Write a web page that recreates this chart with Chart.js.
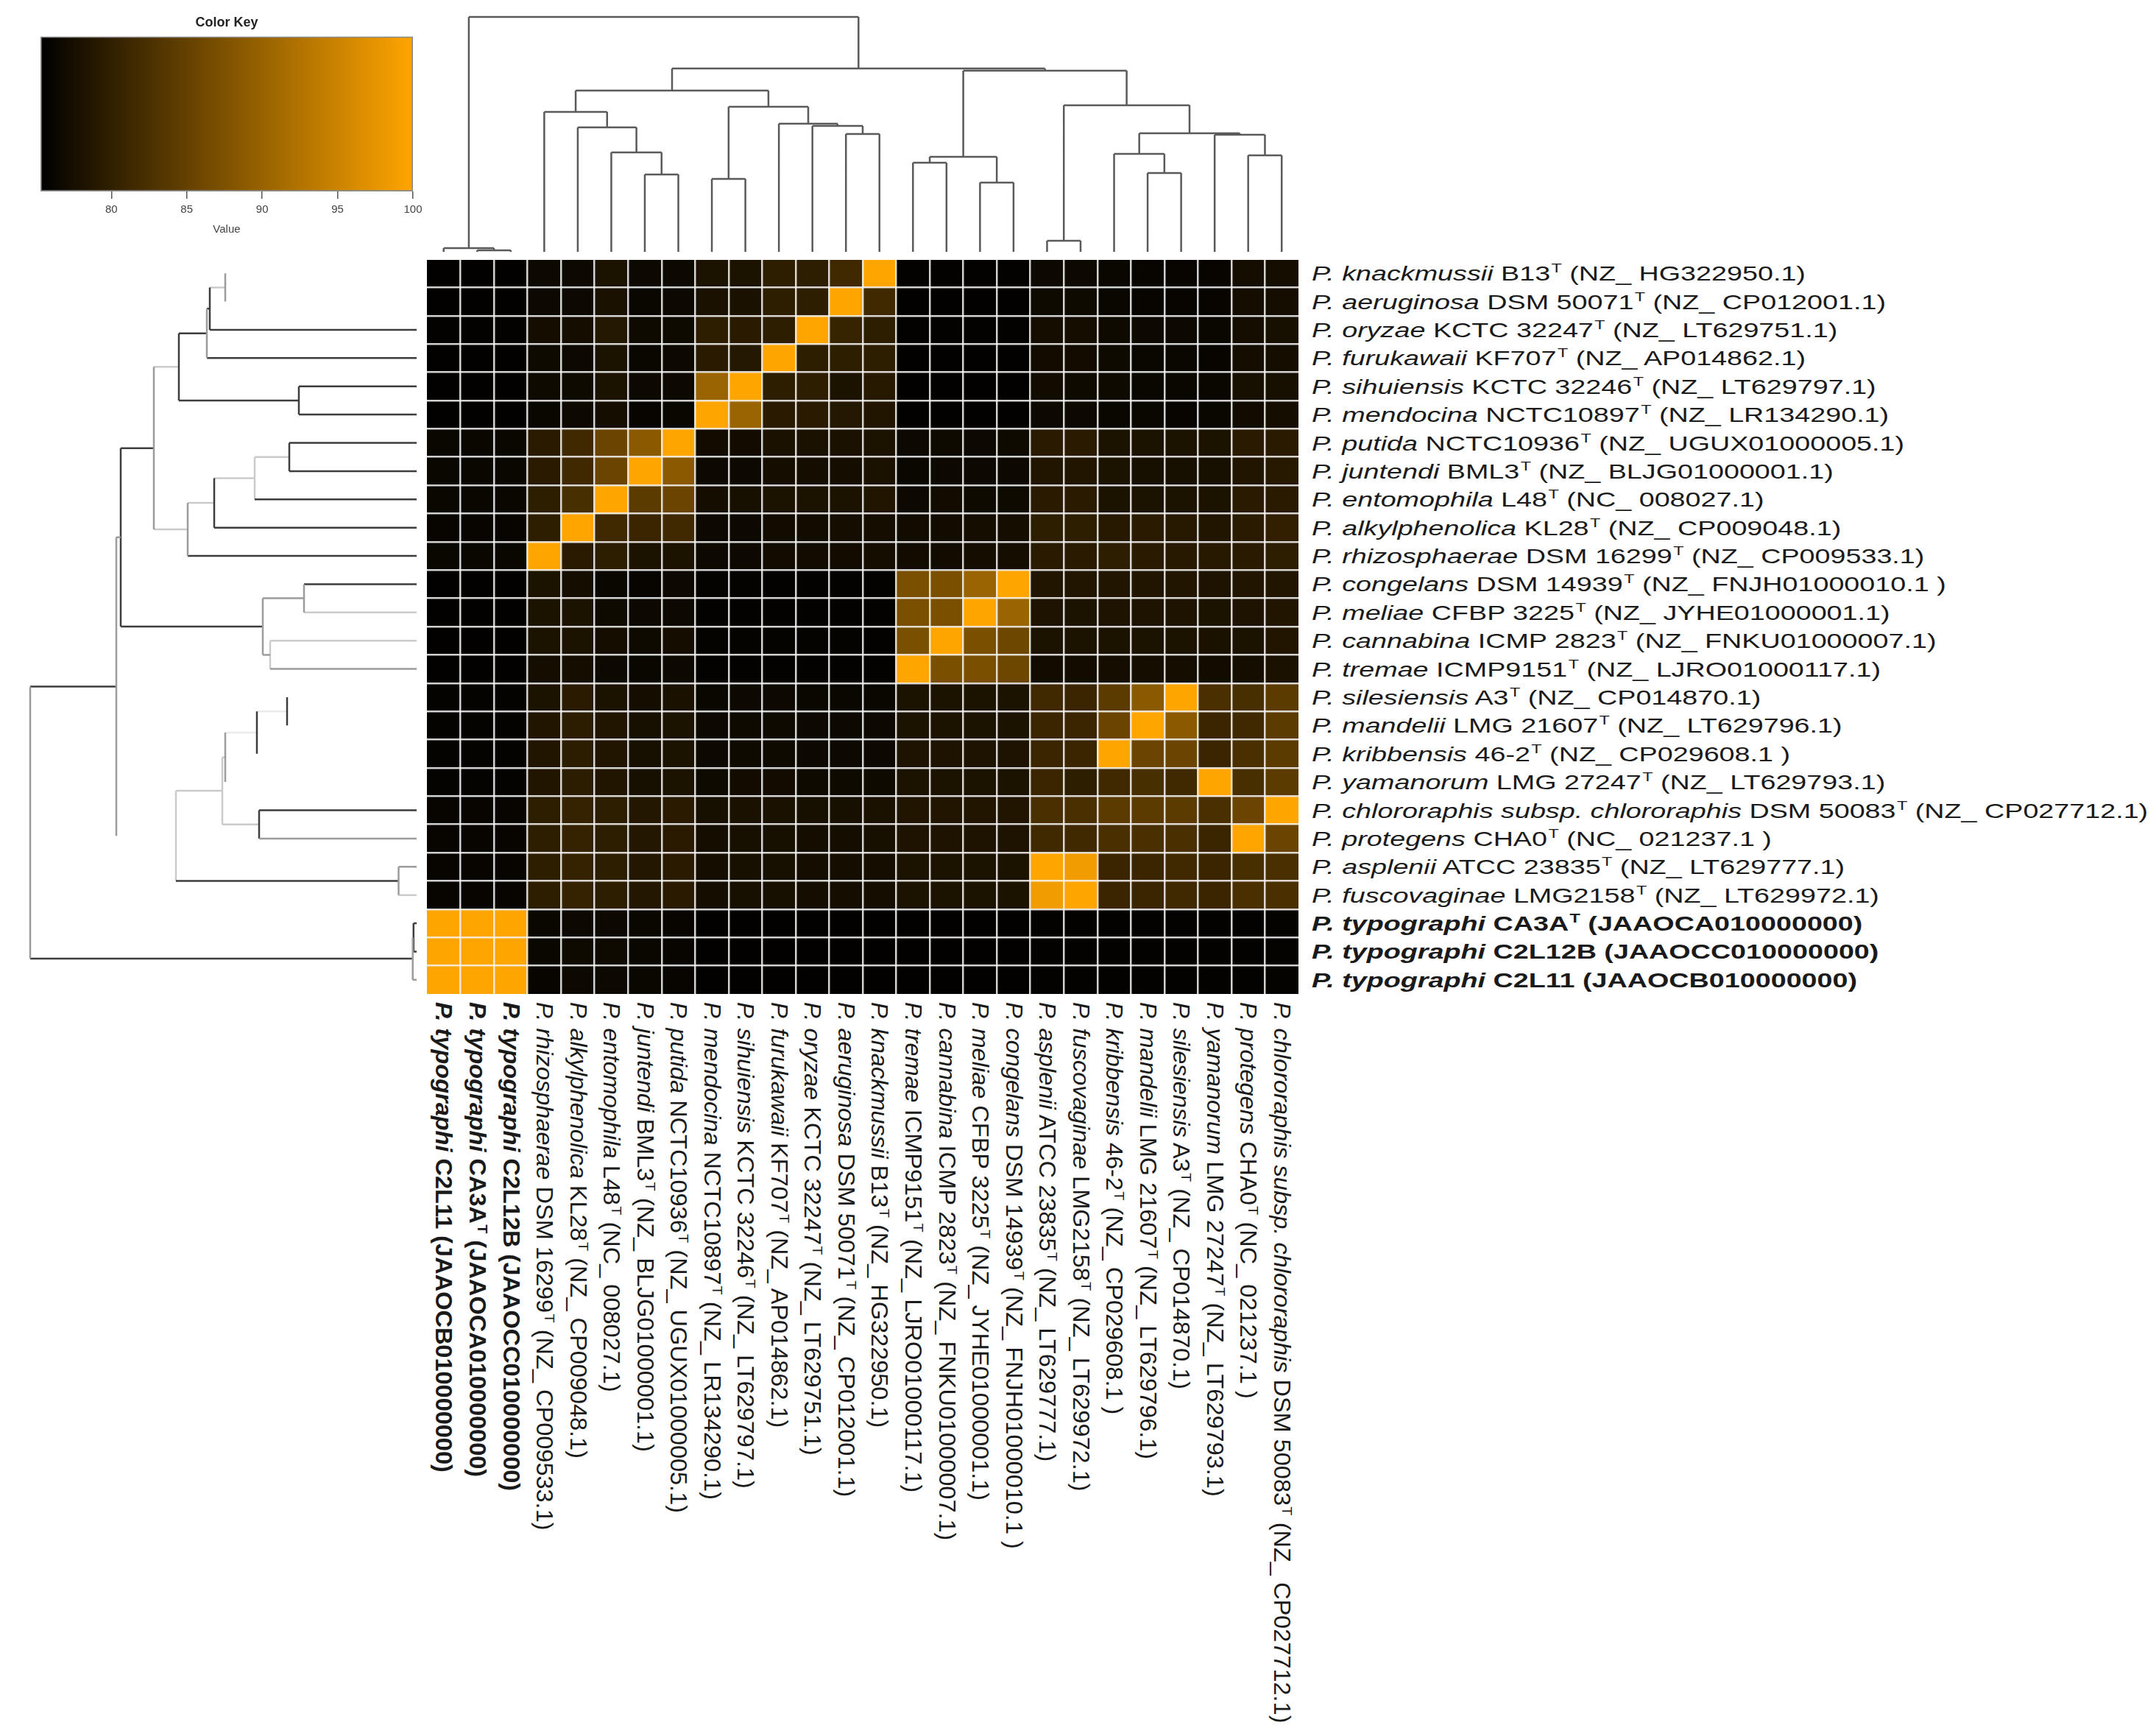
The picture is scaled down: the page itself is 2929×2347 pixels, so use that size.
<!DOCTYPE html>
<html><head><meta charset="utf-8">
<script src="https://cdn.jsdelivr.net/npm/chart.js@4.4.1/dist/chart.umd.min.js"></script>
<style>
html,body{margin:0;padding:0;background:#fff;}
body{width:2929px;height:2347px;position:relative;overflow:hidden;}
.pane{position:absolute;}
.lab{position:absolute;white-space:nowrap;font-family:'Liberation Sans',Arial,sans-serif;color:#1a1a1a;font-size:26px;line-height:30px;height:30px;}
.lab .s{font-size:0.62em;position:relative;top:-0.62em;margin-left:1px;}
</style></head>
<body>
<div class="pane" style="left:0;top:0;width:620px;height:325px"><canvas id="keyChart"></canvas></div>
<div class="pane" style="left:575px;top:18px;width:1194px;height:329px"><canvas id="topTree"></canvas></div>
<div class="pane" style="left:36px;top:347px;width:535px;height:1008px"><canvas id="leftTree"></canvas></div>
<div class="pane" style="left:580px;top:352px;width:1184px;height:998px"><canvas id="heat"></canvas></div>
<div id="labels"></div>
<script>
// ---------------- data ----------------
const speciesItalic = ['P. knackmussii','P. aeruginosa','P. oryzae','P. furukawaii','P. sihuiensis','P. mendocina',
  'P. putida','P. juntendi','P. entomophila','P. alkylphenolica','P. rhizosphaerae','P. congelans','P. meliae',
  'P. cannabina','P. tremae','P. silesiensis','P. mandelii','P. kribbensis','P. yamanorum',
  'P. chlororaphis subsp. chlororaphis','P. protegens','P. asplenii','P. fuscovaginae',
  'P. typographi','P. typographi','P. typographi'];
const speciesStrain = ['B13','DSM 50071','KCTC 32247','KF707','KCTC 32246','NCTC10897','NCTC10936','BML3','L48',
  'KL28','DSM 16299','DSM 14939','CFBP 3225','ICMP 2823','ICMP9151','A3','LMG 21607','46-2','LMG 27247',
  'DSM 50083','CHA0','ATCC 23835','LMG2158','CA3A','C2L12B','C2L11'];
const speciesTypeStrain = [true,true,true,true,true,true,true,true,true,true,true,true,true,true,true,true,true,
  true,true,true,true,true,true,true,false,false];
const speciesAccession = ['NZ_ HG322950.1','NZ_ CP012001.1','NZ_ LT629751.1','NZ_ AP014862.1','NZ_ LT629797.1',
  'NZ_ LR134290.1','NZ_ UGUX01000005.1','NZ_ BLJG01000001.1','NC_ 008027.1','NZ_ CP009048.1','NZ_ CP009533.1',
  'NZ_ FNJH01000010.1 ','NZ_ JYHE01000001.1','NZ_ FNKU01000007.1','NZ_ LJRO01000117.1','NZ_ CP014870.1',
  'NZ_ LT629796.1','NZ_ CP029608.1 ','NZ_ LT629793.1','NZ_ CP027712.1','NC_ 021237.1 ','NZ_ LT629777.1',
  'NZ_ LT629972.1','JAAOCA010000000','JAAOCC010000000','JAAOCB010000000'];
const speciesBold = [false,false,false,false,false,false,false,false,false,false,false,false,false,false,false,
  false,false,false,false,false,false,false,false,true,true,true];

const rowOrder = [0,1,2,3,4,5,6,7,8,9,10,11,12,13,14,15,16,17,18,19,20,21,22,23,24,25];
const colOrder = [25,23,24,10,9,8,7,6,5,4,3,2,1,0,14,13,12,11,21,22,17,16,15,18,20,19];

// ANI values (%), rows in rowOrder, columns in colOrder
const aniValues = [
 [75.5,75.5,75.5, 76.6,76.6,78.0,76.6,76.6, 78.0,78.0,79.8,79.8,81.5,100, 75.6,75.6,75.6,75.6, 76.6,76.6,76.3,76.1,76.1,76.1,77.2,77.2],
 [75.5,75.5,75.5, 76.6,76.6,77.8,76.3,76.6, 77.8,77.8,79.8,79.8,100,81.5, 75.5,75.5,75.5,75.5, 76.8,76.8,76.3,76.1,76.1,76.1,77.2,77.2],
 [75.6,75.6,75.6, 77.2,77.2,78.9,76.8,76.8, 79.8,79.4,79.8,100,80.5,79.8, 75.6,75.6,75.6,75.6, 77.2,77.2,76.8,76.6,76.6,76.3,77.2,77.5],
 [75.5,75.5,75.5, 76.8,76.6,78.0,76.3,76.6, 79.4,78.9,100,79.8,79.8,79.8, 75.5,75.5,75.5,75.5, 77.0,77.0,76.8,76.3,76.3,76.1,77.2,77.2],
 [75.5,75.5,75.5, 76.8,76.8,78.0,76.6,76.6, 90.2,100,79.8,79.8,78.0,79.0, 75.5,75.5,75.5,75.5, 77.0,76.8,76.8,76.3,76.3,76.3,77.5,77.5],
 [75.5,75.5,75.5, 76.3,76.6,77.2,76.1,76.3, 100,90.2,79.4,79.4,78.9,78.5, 75.5,75.5,75.5,75.5, 76.6,76.6,76.3,76.3,76.1,76.3,77.0,77.2],
 [76.3,76.3,76.3, 79.4,81.5,85.7,88.7,100, 77.0,77.0,77.8,77.8,77.8,78.0, 76.6,76.8,76.6,76.8, 79.4,79.4,78.0,78.0,78.0,78.0,79.4,79.4],
 [76.3,76.3,76.3, 79.4,81.5,85.7,100,88.7, 76.6,76.6,77.2,77.2,77.2,77.8, 76.3,76.6,76.6,76.6, 78.5,78.5,78.0,77.5,77.5,77.5,78.5,79.0],
 [76.3,76.3,76.3, 79.8,82.3,100,84.2,85.7, 77.2,77.5,78.0,78.0,78.0,78.5, 76.6,77.0,76.8,76.8, 79.4,79.4,78.0,78.0,78.0,78.0,79.4,79.4],
 [76.1,76.1,76.1, 79.8,100,81.5,80.9,81.5, 76.6,76.6,77.0,77.0,77.2,77.2, 77.0,77.0,77.2,77.2, 79.8,79.8,79.0,79.4,79.0,78.5,79.4,80.0],
 [76.3,76.3,76.3, 100,79.4,79.8,78.0,78.0, 76.6,76.6,77.0,77.0,77.0,77.2, 77.0,77.0,77.2,77.2, 79.4,79.4,79.8,79.4,79.0,79.0,79.4,79.8],
 [75.5,75.5,75.5, 78.0,77.2,76.3,76.1,76.6, 75.8,75.7,75.6,75.6,75.6,75.6, 87.1,87.1,90.2,100, 78.5,78.5,78.5,78.5,78.5,78.2,78.5,78.5],
 [75.5,75.5,75.5, 78.0,78.0,76.8,76.6,76.6, 75.6,75.6,75.6,75.6,75.6,75.6, 87.1,87.1,100,90.2, 78.2,78.0,78.2,78.2,78.2,78.0,78.2,78.5],
 [75.5,75.5,75.5, 78.0,78.0,77.2,76.8,77.2, 75.8,75.8,75.8,75.8,75.8,75.6, 87.1,100,87.1,85.9, 78.0,78.0,78.0,78.0,78.0,77.8,78.0,78.5],
 [75.5,75.5,75.5, 77.2,77.2,76.6,76.3,76.6, 75.6,75.6,75.6,75.6,75.6,75.6, 100,87.1,87.1,85.9, 77.0,77.0,77.2,77.2,77.2,77.0,77.2,77.8],
 [75.8,75.8,75.8, 78.0,79.4,78.0,77.2,77.8, 76.3,76.6,76.6,76.3,76.3,76.3, 78.0,78.0,78.0,78.0, 81.5,80.9,84.2,88.7,100,82.5,82.3,84.2],
 [75.8,75.8,75.8, 78.5,79.6,78.5,77.5,78.0, 76.6,76.8,76.8,76.6,76.6,76.6, 78.0,78.0,78.0,78.0, 80.9,80.9,85.7,100,88.7,80.9,81.5,84.2],
 [75.8,75.8,75.8, 78.5,79.6,78.5,77.5,78.0, 76.6,76.8,76.8,76.6,76.6,76.6, 78.2,78.2,78.2,78.2, 80.9,80.9,100,85.7,85.7,80.9,82.5,84.2],
 [75.8,75.8,75.8, 78.5,79.6,78.5,77.5,78.0, 76.8,77.0,77.0,76.8,76.8,76.8, 78.0,78.0,78.0,78.0, 80.9,79.8,81.5,82.3,81.5,100,82.3,84.2],
 [76.1,76.1,76.1, 79.8,80.4,79.8,78.7,79.4, 77.5,77.8,77.8,77.5,77.5,77.8, 78.5,78.5,78.5,78.5, 82.5,82.5,84.2,84.2,84.2,82.5,85.7,100],
 [76.1,76.1,76.1, 79.8,80.4,79.8,78.7,79.4, 77.2,77.5,77.5,77.2,77.2,77.5, 78.2,78.2,78.2,78.2, 81.5,81.5,82.5,82.5,82.5,80.9,100,85.7],
 [76.1,76.1,76.1, 79.8,80.4,79.8,78.7,79.4, 77.2,77.5,77.5,77.2,77.2,77.2, 78.0,78.0,78.0,78.0, 100,98.6,80.9,80.9,81.5,80.9,82.3,82.5],
 [76.1,76.1,76.1, 79.8,80.4,79.8,78.7,79.4, 77.2,77.5,77.5,77.2,77.2,77.2, 78.0,78.0,78.0,78.0, 98.6,100,80.9,80.9,81.5,80.9,82.5,82.5],
 [100,100,100, 76.3,76.6,76.6,76.3,76.1, 75.5,75.5,75.5,75.5,75.5,75.5, 75.5,75.5,75.5,75.5, 75.6,75.6,75.6,75.6,75.6,75.6,75.6,75.8],
 [100,100,100, 76.3,76.8,76.8,76.3,76.1, 75.5,75.5,75.5,75.5,75.5,75.5, 75.5,75.5,75.5,75.5, 75.6,75.6,75.6,75.6,75.6,75.6,75.6,75.8],
 [100,100,100, 76.1,76.6,76.6,76.3,76.1, 75.5,75.5,75.5,75.5,75.5,75.5, 75.5,75.5,75.5,75.5, 75.6,75.6,75.6,75.6,75.6,75.6,75.6,75.8]
];

const keyMin = 75.3, keyMax = 100;
const keyTicks = [80, 85, 90, 95, 100];

// column dendrogram merges: [childA, childB, height]; leaves 0..25 = column positions, new nodes from 26
const colTreeMerges = [[1,2,2],[0,26,5],[6,7,105],[5,28,135],[4,29,169],[3,30,190],[8,9,99],[12,13,160],
  [11,33,171],[10,34,174],[32,35,197],[31,36,219],[14,15,121],[16,17,94],[38,39,129],[18,19,15],[21,22,107],
  [20,42,133],[24,25,131],[23,44,159],[43,45,161],[41,46,199],[40,47,246],[37,48,249],[27,49,319]];
// row dendrogram merges
const rowTreeMerges = [[0,1,260],[26,2,281],[27,3,285],[4,5,160],[28,29,323],[6,7,173],[31,8,220],[32,9,275],
  [33,10,311],[30,34,357],[11,12,153],[13,14,199],[36,37,209],[35,38,402],[15,16,176],[40,17,217],[41,18,260],
  [19,20,214],[42,43,264],[21,22,24.5],[44,45,327],[39,46,408],[23,24,4.2],[48,25,5.3],[47,49,525]];
// line shades of the row dendrogram (d dark, m mid, l light, f faint, n not drawn)
const rowStemShade = ['n','n','d','d','d','d','d','d','d','d','d','d','l','l','m','n','n','n','n','d','m','m','l','d','d','m',
  'l','d','d','d','l','l','l','l','l','d','m','m','d','m','f','f','l','l','l','d','n','d','d','d'];
const rowJoinShade = ['m','d','m','d','d','d','l','d','m','m','m','l','m','d','d','d','m','d','l','m','l','m','d','m','m'];

// ---------------- helpers ----------------
Chart.defaults.font.family = "'Liberation Sans', Arial, sans-serif";
const shadeColor = {d:'#3d3d3d', m:'#9c9c9c', l:'#cbcbcb', f:'#ececec', t:'#5a5a5a'};
function valueColor(v){
  const t = Math.max(0, Math.min(1, (v - keyMin) / (keyMax - keyMin)));
  return 'rgb(' + Math.round(255*t) + ',' + Math.round(165*t) + ',0)';
}
function treeDatasets(merges, nLeaves, stemShade, joinShade, orient, width){
  const pos = [], ht = [];
  for (let i = 0; i < nLeaves; i++){ pos[i] = i + 0.5; ht[i] = 0; }
  merges.forEach((m, k) => { const id = nLeaves + k; pos[id] = (pos[m[0]] + pos[m[1]]) / 2; ht[id] = m[2]; });
  const pt = (p, h) => orient === 'top' ? {x: p, y: h} : {x: h, y: p};
  const groups = {};
  const add = (shade, a, b) => {
    if (shade === 'n') return;
    (groups[shade] = groups[shade] || []).push(a, b, {x: null, y: null});
  };
  merges.forEach((m, k) => {
    const H = m[2];
    add(joinShade[k], pt(pos[m[0]], H), pt(pos[m[1]], H));
    m.slice(0, 2).forEach(c => add(stemShade[c], pt(pos[c], ht[c]), pt(pos[c], H)));
  });
  return Object.keys(groups).map(s => ({
    data: groups[s], borderColor: shadeColor[s], borderWidth: width, showLine: true, spanGaps: false,
    clip: false, pointRadius: 0, fill: false, tension: 0
  }));
}
const baseOpts = {responsive: true, maintainAspectRatio: false, animation: false, events: [],
  plugins: {legend: {display: false}, tooltip: {enabled: false}}};

// ---------------- colour key ----------------
const keyGradient = (ctx) => {
  const ch = ctx.chart, xs = ch.scales.x;
  if (!xs || !ch.chartArea) return valueColor(90);
  const g = ch.ctx.createLinearGradient(xs.getPixelForValue(keyMin), 0, xs.getPixelForValue(keyMax), 0);
  g.addColorStop(0, valueColor(keyMin)); g.addColorStop(1, valueColor(keyMax));
  return g;
};
new Chart(document.getElementById('keyChart'), {
  type: 'bar',
  data: {labels: ['Value'], datasets: [{data: [[keyMin, keyMax]], backgroundColor: keyGradient,
    borderColor: '#8a8a8a', borderWidth: 2, borderSkipped: false, barPercentage: 1, categoryPercentage: 1}]},
  options: Object.assign({}, baseOpts, {
    indexAxis: 'y',
    layout: {padding: {left: 55, right: 59, top: 0, bottom: 0}},
    plugins: {legend: {display: false}, tooltip: {enabled: false},
      title: {display: true, text: 'Color Key', color: '#222', font: {size: 18, weight: 'bold'}, padding: {top: 20, bottom: 8}}},
    scales: {
      x: {type: 'linear', min: keyMin, max: keyMax,
        afterBuildTicks: s => { s.ticks = keyTicks.map(v => ({value: v})); },
        grid: {drawOnChartArea: false, drawTicks: true, tickLength: 10, color: '#555', lineWidth: 1.5},
        border: {display: false},
        ticks: {color: '#444', font: {size: 15}, padding: 6, maxRotation: 0, autoSkip: false},
        title: {display: true, text: 'Value', color: '#444', font: {size: 15}, padding: {top: 3, bottom: 4}}},
      y: {display: false}
    }
  })
});

// ---------------- dendrograms ----------------
new Chart(document.getElementById('topTree'), {
  type: 'line',
  data: {datasets: treeDatasets(colTreeMerges, 26, new Array(51).fill('t'), new Array(25).fill('t'), 'top', 2.5)},
  options: Object.assign({}, baseOpts, {
    layout: {padding: 5},
    scales: {x: {type: 'linear', display: false, min: 0, max: 26},
             y: {type: 'linear', display: false, min: 0, max: 319}}
  })
});
new Chart(document.getElementById('leftTree'), {
  type: 'line',
  data: {datasets: treeDatasets(rowTreeMerges, 26, rowStemShade, rowJoinShade, 'left', 2.5)},
  options: Object.assign({}, baseOpts, {
    layout: {padding: 5},
    scales: {x: {type: 'linear', display: false, min: 0, max: 525, reverse: true},
             y: {type: 'linear', display: false, min: 0, max: 26, reverse: true}}
  })
});

// ---------------- heatmap ----------------
const gridWhite = 'rgba(246,246,246,0.85)';
const heat = new Chart(document.getElementById('heat'), {
  type: 'bar',
  data: {
    labels: colOrder.map(i => speciesItalic[i] + ' ' + speciesStrain[i]),
    datasets: rowOrder.map((sp, r) => ({
      label: speciesItalic[sp] + ' ' + speciesStrain[sp],
      data: colOrder.map(() => [r, r + 1]),
      backgroundColor: aniValues[r].map(valueColor),
      borderWidth: 0, grouped: false, barPercentage: 1, categoryPercentage: 1
    }))
  },
  options: Object.assign({}, baseOpts, {
    layout: {padding: 0},
    scales: {
      x: {type: 'category', offset: true,
        grid: {offset: true, z: 1, lineWidth: 2.5, drawTicks: false,
          color: c => (c.type === 'tick' && c.index > 0) ? gridWhite : 'rgba(0,0,0,0)'},
        ticks: {display: false}, border: {display: false}},
      y: {type: 'linear', min: 0, max: 26, reverse: true,
        ticks: {display: false, stepSize: 1},
        grid: {z: 1, lineWidth: 2.5, drawTicks: false,
          color: c => (c.tick && c.tick.value > 0 && c.tick.value < 26) ? gridWhite : 'rgba(0,0,0,0)'},
        border: {display: false}}
    }
  })
});

// ---------------- labels (real text, placed from the heatmap scales) ----------------
function labelHTML(i){
  let h = '<i>' + speciesItalic[i] + '</i> ' + speciesStrain[i] +
    (speciesTypeStrain[i] ? '<span class="s">T</span>' : '') + ' (' + speciesAccession[i] + ')';
  return speciesBold[i] ? '<b>' + h + '</b>' : h;
}
const labels = document.getElementById('labels');
const heatLeft = 580, heatTop = 352;
const rowLabelX = 1782, colLabelY = 1361;
const rowSX = 1.45, rowSY = 1.06, colSA = 1.25, colST = 1.18;
rowOrder.forEach((sp, r) => {
  const el = document.createElement('div');
  el.className = 'lab';
  el.innerHTML = labelHTML(sp);
  el.style.left = rowLabelX + 'px';
  el.style.top = (heatTop + heat.scales.y.getPixelForValue(r + 0.5) - 15) + 'px';
  el.style.transformOrigin = 'left center';
  el.style.transform = 'scale(' + rowSX + ',' + rowSY + ')';
  labels.appendChild(el);
});
colOrder.forEach((sp, c) => {
  const el = document.createElement('div');
  el.className = 'lab';
  el.innerHTML = labelHTML(sp);
  el.style.left = (heatLeft + heat.scales.x.getPixelForValue(c) + 15 * colST) + 'px';
  el.style.top = colLabelY + 'px';
  el.style.transformOrigin = 'left top';
  el.style.transform = 'rotate(90deg) scale(' + colSA + ',' + colST + ')';
  labels.appendChild(el);
});
</script>
</body></html>
